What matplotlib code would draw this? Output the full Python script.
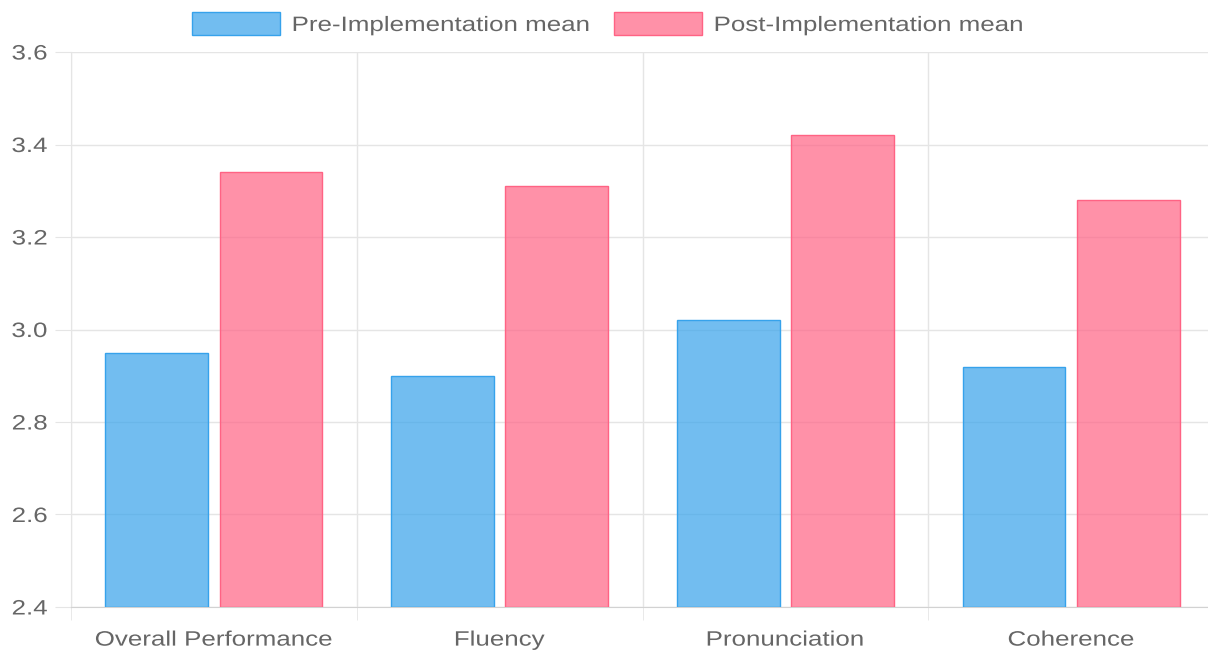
import matplotlib
matplotlib.use("Agg")
import matplotlib.pyplot as plt
from matplotlib.patches import Rectangle
from matplotlib.patheffects import AbstractPathEffect
from matplotlib.transforms import Affine2D
import numpy as np

categories = ["Overall Performance", "Fluency", "Pronunciation", "Coherence"]
pre_mean = [2.95, 2.90, 3.02, 2.92]
post_mean = [3.34, 3.31, 3.42, 3.28]
series_labels = ["Pre-Implementation mean", "Post-Implementation mean"]
y_ticks = [2.4, 2.6, 2.8, 3.0, 3.2, 3.4, 3.6]

plt.rcParams["font.family"] = ["Liberation Sans", "DejaVu Sans"]

W, H = 1208, 650
blue_fill = (54/255, 162/255, 235/255, 0.7)
blue_edge = (54/255, 162/255, 235/255, 1.0)
pink_fill = (255/255, 99/255, 132/255, 0.7)
pink_edge = (255/255, 99/255, 132/255, 1.0)
grid_col = "#e5e5e5"
text_col = "#666666"
FS = 15
SX = 1.245


class WideText(AbstractPathEffect):
    """Draw glyphs widened horizontally about a chosen anchor (left/center/right)."""

    def __init__(self, sx, anchor="center"):
        super().__init__()
        self.sx = sx
        self.anchor = anchor

    def draw_path(self, renderer, gc, tpath, affine, rgbFace=None):
        bb = tpath.get_extents(affine)
        if self.anchor == "left":
            cx = bb.x0
        elif self.anchor == "right":
            cx = bb.x1
        else:
            cx = 0.5 * (bb.x0 + bb.x1)
        stretch = Affine2D().translate(-cx, 0).scale(self.sx, 1).translate(cx, 0)
        renderer.draw_path(gc, tpath, affine + stretch, rgbFace)


fig = plt.figure(figsize=(W / 100, H / 100), dpi=100)
ax = fig.add_axes([71 / W, 1 - 607 / H, (1214 - 71) / W, (607 - 52) / H])

x = np.arange(len(categories))
cat_pct, bar_pct = 0.8, 0.9
bw = cat_pct / 2 * bar_pct
off = cat_pct / 4

ax.bar(x - off, np.array(pre_mean) - 2.4, bottom=2.4, width=bw,
       color=blue_fill, edgecolor=blue_edge, linewidth=1, zorder=3)
ax.bar(x + off, np.array(post_mean) - 2.4, bottom=2.4, width=bw,
       color=pink_fill, edgecolor=pink_edge, linewidth=1, zorder=3)

ax.set_xlim(-0.5, len(categories) - 0.5)
ax.set_ylim(2.4, 3.6)
ax.set_yticks(y_ticks)
ax.set_yticklabels([f"{v:.1f}" for v in y_ticks])
ax.set_xticks(x)
ax.set_xticklabels(categories)
ax.set_xticks(np.arange(len(categories)) - 0.5, minor=True)

ax.tick_params(axis="y", length=11.5, color=grid_col, labelsize=FS,
               labelcolor=text_col, pad=5.5)
ax.tick_params(axis="x", which="major", length=0, labelsize=FS,
               labelcolor=text_col, pad=17)
ax.tick_params(axis="x", which="minor", length=9.4, color=grid_col)

for lbl in ax.get_yticklabels():
    lbl.set_path_effects([WideText(SX, "right")])
for lbl in ax.get_xticklabels():
    lbl.set_path_effects([WideText(SX, "center")])

ax.grid(axis="y", color=grid_col, linewidth=1, zorder=0)
ax.grid(axis="x", which="minor", color=grid_col, linewidth=1, zorder=0)
for s in ["top", "right"]:
    ax.spines[s].set_visible(False)
ax.spines["left"].set_color(grid_col)
ax.spines["bottom"].set_color("#d2d2d2")

# legend drawn along the top, swatch + label per series
legend_items = [
    (192, 292, blue_fill, blue_edge, series_labels[0]),
    (614, 714, pink_fill, pink_edge, series_labels[1]),
]
for box_x, text_x, fc, ec, label in legend_items:
    fig.add_artist(Rectangle((box_x / W, 1 - 35 / H), 88 / W, 23 / H,
                             transform=fig.transFigure, facecolor=fc,
                             edgecolor=ec, linewidth=1))
    fig.text(text_x / W, 1 - 23.5 / H, label, fontsize=FS, color=text_col,
             ha="left", va="center_baseline",
             path_effects=[WideText(SX, "left")])

fig.savefig("out.png", dpi=100)
